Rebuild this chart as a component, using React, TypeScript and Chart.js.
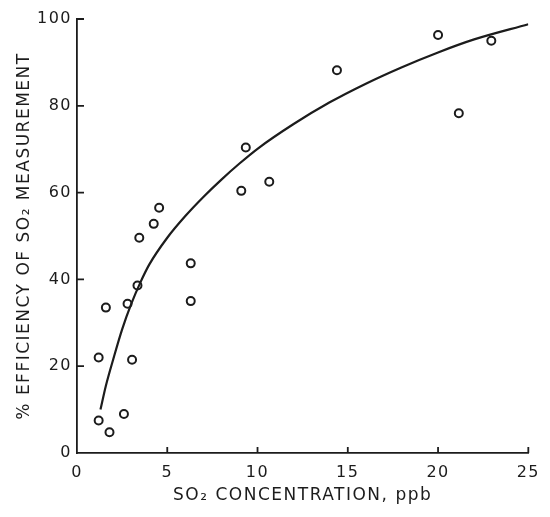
import React, { useEffect, useRef } from "react";
import { Chart, registerables } from "chart.js";

Chart.register(...registerables);

// Measured data points (SO2 concentration ppb, efficiency %)
const pointX = [1.2, 1.8, 2.6, 1.2, 1.6, 3.05, 2.8, 3.35, 6.3, 6.3, 3.45, 4.25, 4.55, 9.1, 9.35, 10.65, 14.4, 20.0, 22.95, 21.15];
const pointY = [7.5, 4.8, 9.0, 22.0, 33.5, 21.5, 34.4, 38.6, 35.0, 43.7, 49.6, 52.8, 56.5, 60.4, 70.4, 62.5, 88.2, 96.3, 95.0, 78.3];

// Fitted curve as drawn in the figure
const curveX = [1.3, 1.6, 2, 2.5, 3, 3.5, 4, 5, 6, 7, 8, 9, 10, 12, 14, 16, 18, 20, 22, 25];
const curveY = [10, 15.5, 21.5, 28.5, 34.3, 39.2, 43.4, 49.6, 54.6, 59, 63, 66.7, 70.1, 75.8, 80.8, 85.1, 88.9, 92.3, 95.3, 98.8];

const xTicks = [0, 5, 10, 15, 20, 25];
const yTicks = [0, 20, 40, 60, 80, 100];

const xTitle = "SO\u2082 CONCENTRATION, ppb";
const yTitle = "% EFFICIENCY OF SO\u2082 MEASUREMENT";

const INK = "#1c1c1c";
const FONT = "'DejaVu Sans', sans-serif";

const spacingPlugin = {
  id: "spacing",
  beforeUpdate(chart: any) {
    chart.ctx.letterSpacing = "1.5px";
  },
  beforeDraw(chart: any) {
    chart.ctx.letterSpacing = "1.5px";
  },
};

const inwardTicks = {
  id: "inwardTicks",
  afterDraw(chart: any) {
    const { ctx, chartArea, scales } = chart;
    const xs = scales.x;
    const ys = scales.y;
    ctx.save();
    ctx.strokeStyle = INK;
    ctx.lineWidth = 1.8;
    ctx.beginPath();
    for (const v of yTicks) {
      if (v === 0) continue;
      const py = ys.getPixelForValue(v);
      ctx.moveTo(chartArea.left, py);
      ctx.lineTo(chartArea.left + 7, py);
    }
    for (const v of xTicks) {
      if (v === 0) continue;
      const px = xs.getPixelForValue(v);
      ctx.moveTo(px, chartArea.bottom);
      ctx.lineTo(px, chartArea.bottom - 6);
    }
    ctx.stroke();
    ctx.restore();
  },
};

export default function App() {
  const ref = useRef<HTMLCanvasElement | null>(null);

  useEffect(() => {
    if (!ref.current) return;
    const chart = new Chart(ref.current, {
      type: "scatter",
      data: {
        datasets: [
          {
            label: "measured",
            data: pointX.map((x, i) => ({ x, y: pointY[i] })),
            showLine: false,
            pointRadius: 4,
            pointBorderWidth: 2,
            pointBorderColor: INK,
            pointBackgroundColor: "rgba(255,255,255,0)",
          },
          {
            label: "curve",
            data: curveX.map((x, i) => ({ x, y: curveY[i] })),
            showLine: true,
            pointRadius: 0,
            borderColor: INK,
            borderWidth: 2.2,
            cubicInterpolationMode: "monotone",
            fill: false,
          },
        ],
      },
      options: {
        responsive: false,
        animation: false,
        devicePixelRatio: 1,
        layout: { padding: { top: 19, right: 17, left: 0, bottom: 0 } },
        plugins: {
          legend: { display: false },
          tooltip: { enabled: false },
        },
        scales: {
          x: {
            type: "linear",
            min: 0,
            max: 25,
            afterFit: (s: any) => {
              s.height = 64;
            },
            afterBuildTicks: (s: any) => {
              s.ticks = xTicks.map((v) => ({ value: v }));
            },
            grid: { display: false, drawTicks: false },
            border: { display: true, color: INK, width: 1.8 },
            ticks: {
              color: INK,
              font: { family: FONT, size: 16 },
              padding: 10,
              maxRotation: 0,
            },
            title: {
              display: true,
              text: xTitle,
              color: INK,
              font: { family: FONT, size: 17 },
              padding: { top: 0, bottom: 11 },
            },
          },
          y: {
            type: "linear",
            min: 0,
            max: 100,
            afterFit: (s: any) => {
              s.width = 77;
            },
            afterBuildTicks: (s: any) => {
              s.ticks = yTicks.map((v) => ({ value: v }));
            },
            grid: { display: false, drawTicks: false },
            border: { display: true, color: INK, width: 1.8 },
            ticks: {
              color: INK,
              font: { family: FONT, size: 16 },
              padding: 5,
            },
            title: {
              display: true,
              text: yTitle,
              color: INK,
              font: { family: FONT, size: 17 },
              padding: { top: 14, bottom: 0 },
            },
          },
        },
      },
      plugins: [spacingPlugin, inwardTicks],
    } as any);
    return () => chart.destroy();
  }, []);

  return (
    <div style={{ position: "absolute", left: 0, top: 0, width: 550, height: 517, background: "#fff" }}>
      <canvas ref={ref} width={550} height={517} />
    </div>
  );
}
